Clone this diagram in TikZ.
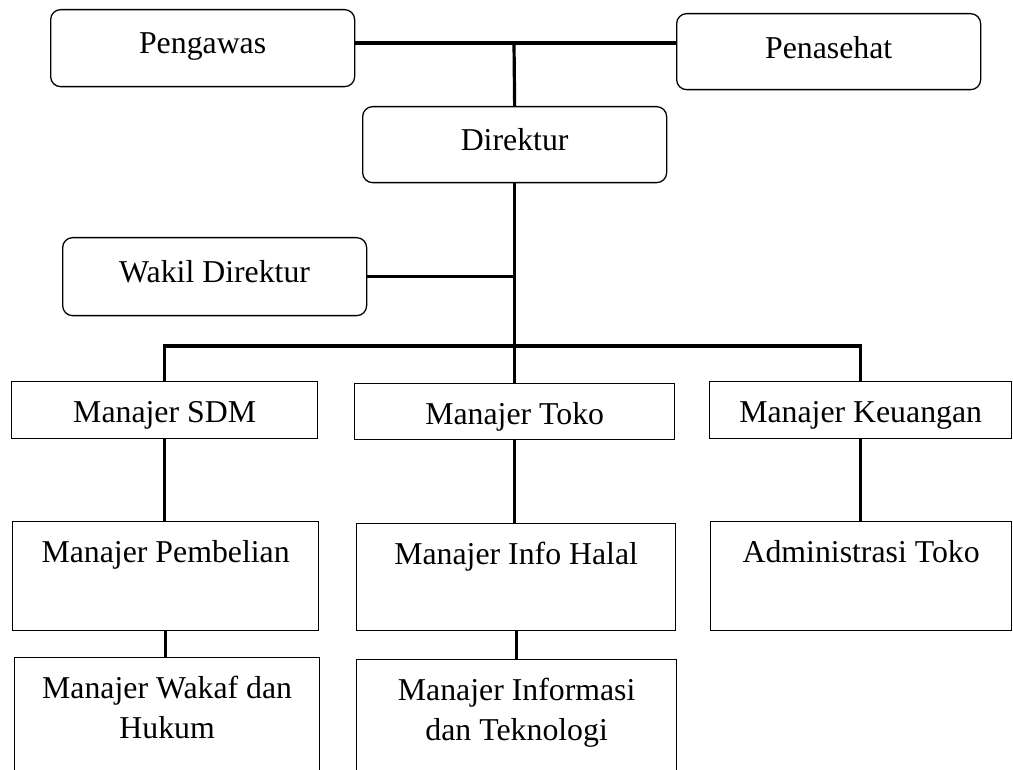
\documentclass[tikz,border=0pt]{standalone}
\usepackage{fontspec}
\setmainfont{Liberation Serif}

\tikzset{
  roundbox/.style={draw, rounded corners=10pt, line width=1.3pt, anchor=north west, inner xsep=0pt, inner ysep=0pt, text height=44pt},
  sqbox/.style={draw, line width=1.3pt, anchor=north west, inner xsep=0pt, inner ysep=0pt, text height=41pt},
  link/.style={line width=3.2pt}
}

\begin{document}
\begin{tikzpicture}[x=1pt, y=-1pt, font=\fontsize{31.8}{40}\selectfont]

\useasboundingbox (0,0) rectangle (1013,770); %% page size

%% top
\node[roundbox, minimum width=304pt, text depth=33pt] (peng) at (50,9) {Pengawas};
\node[roundbox, minimum width=304pt, text height=45pt, text depth=31pt] (pen) at (676,13) {Penasehat};
\node[roundbox, minimum width=304pt, text depth=32pt] (dir) at (362,106) {Direktur};
\node[roundbox, minimum width=304pt, text height=45pt, text depth=33pt] (wakil) at (62,237) {Wakil Direktur};

%% managers
\node[sqbox, minimum width=306pt, text depth=16pt] (sdm) at (11,381) {Manajer SDM};
\node[sqbox, minimum width=320pt, text depth=15pt] (toko) at (354,383) {Manajer Toko};
\node[sqbox, minimum width=302pt, text depth=16pt] (keu) at (709,381) {Manajer Keuangan};

\node[sqbox, minimum width=306pt, text depth=68pt] (beli) at (12,521) {Manajer Pembelian};
\node[sqbox, minimum width=319pt, text depth=66pt] (halal) at (356,523) {Manajer Info Halal};
\node[sqbox, minimum width=301pt, text depth=68pt] (admin) at (710,521) {Administrasi Toko};

%% two lines: baseline sits on the last line
\node[sqbox, minimum width=305pt, text height=81pt, text depth=50pt, align=center] (wakaf) at (14,657) {Manajer Wakaf dan\\Hukum};
\node[sqbox, minimum width=320pt, text height=81pt, text depth=50pt, align=center] (info) at (356,659) {Manajer Informasi\\dan Teknologi};

%% lines
\coordinate (top) at (514,43);
\coordinate (bus) at (514,346);
\draw[link] (peng.east |- top) -- (pen.west |- top);
\draw[link] (top) -- (dir.north);
\draw[link] (dir.south) -- (toko.north);
\draw[link] (wakil.east) -- (wakil.east -| dir.south);
\draw[link] (sdm.north) |- (bus) -| (keu.north);

\draw[link] (sdm.south) -- (sdm.south |- beli.north);
\draw[link] (toko.south) -- (toko.south |- halal.north);
\draw[link] (keu.south) -- (keu.south |- admin.north);
\draw[link] (beli.south) -- (beli.south |- wakaf.north);
\draw[link] (halal.south) -- (halal.south |- info.north);

\end{tikzpicture}
\end{document}
